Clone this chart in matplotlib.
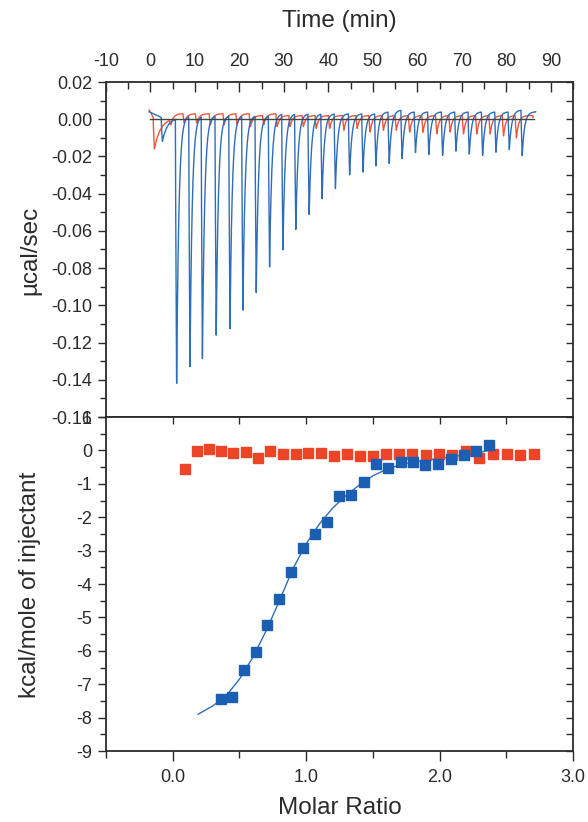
import numpy as np
import matplotlib
matplotlib.use("Agg")
import matplotlib.pyplot as plt
from matplotlib.ticker import MultipleLocator, FixedLocator

plt.rcParams['font.family'] = ['Liberation Sans', 'DejaVu Sans']
plt.rcParams['axes.unicode_minus'] = False

# ---------------- data: raw thermogram (top) ----------------
blue_inj_times = [2.4, 5.6, 8.6, 11.4, 14.5, 17.6, 20.5, 23.5, 26.5, 29.5,
                  32.4, 35.4, 38.3, 41.3, 44.5, 47.5, 50.4, 53.4, 56.3, 59.3,
                  62.3, 65.4, 68.4, 71.4, 74.4, 77.4, 80.4, 83.3]
blue_peak_min = [-0.012, -0.1437, -0.1333, -0.1287, -0.1161, -0.1136, -0.1039,
                 -0.0944, -0.0804, -0.0708, -0.0600, -0.0516, -0.0433, -0.0380,
                 -0.0303, -0.0287, -0.0254, -0.0240, -0.0215, -0.0182, -0.0190,
                 -0.0197, -0.0174, -0.0190, -0.0197, -0.0180, -0.0165, -0.0197]
blue_hump = [0.001, 0.002, 0.002, 0.002, 0.002, 0.002, 0.002, 0.002, 0.003,
             0.003, 0.003, 0.003, 0.003, 0.003, 0.003, 0.003, 0.004, 0.005,
             0.004, 0.004, 0.004, 0.004, 0.004, 0.004, 0.004, 0.004, 0.005, 0.004]
blue_start, blue_end = (-0.3, 0.004), (86.6, 0.004)

red_inj_times = [0.6, 4.3, 7.3, 10.1, 13.2, 16.3, 19.2, 22.2, 25.2, 28.2,
                 31.1, 34.1, 37.0, 40.0, 43.2, 46.2, 49.1, 52.1, 55.0, 58.0,
                 61.0, 64.1, 67.1, 70.1, 73.1, 76.1, 79.1, 82.0]
red_spike_min = [-0.016, -0.003, -0.002, -0.002, -0.003, -0.003, -0.003, -0.004,
                 -0.003, -0.004, -0.004, -0.004, -0.005, -0.005, -0.006, -0.005,
                 -0.007, -0.006, -0.006, -0.007, -0.007, -0.008, -0.007, -0.008,
                 -0.008, -0.008, -0.009, -0.010]
red_hump = [0.001, 0.003, 0.003, 0.003, 0.003, 0.003, 0.003, 0.002, 0.003, 0.002,
            0.002, 0.002, 0.002, 0.002, 0.002, 0.002, 0.002, 0.002, 0.002, 0.002,
            0.002, 0.002, 0.002, 0.002, 0.002, 0.002, 0.002, 0.002]
red_start, red_end = (-0.3, 0.005), (86.0, 0.001)
baseline_span = [0.0, 86.3]

# ---------------- data: integrated heats (bottom) ----------------
blue_ratio = [0.3625, 0.4475, 0.535, 0.6225, 0.71, 0.7975, 0.885, 0.975, 1.065,
              1.155, 1.2475, 1.3375, 1.43, 1.52, 1.6125, 1.7075, 1.7975, 1.8925,
              1.9875, 2.085, 2.18, 2.275, 2.37]
blue_heat = [-7.45, -7.38, -6.58, -6.03, -5.23, -4.45, -3.63, -2.92, -2.51,
             -2.15, -1.38, -1.34, -0.94, -0.41, -0.54, -0.36, -0.36, -0.44,
             -0.40, -0.25, -0.14, -0.03, 0.16]
red_ratio = [0.09, 0.18, 0.2725, 0.3625, 0.455, 0.5475, 0.64, 0.7325, 0.8275,
             0.9225, 1.015, 1.11, 1.2075, 1.3025, 1.40, 1.50, 1.5975, 1.6975,
             1.795, 1.895, 1.995, 2.09, 2.1975, 2.2975, 2.4025, 2.5025, 2.605,
             2.7075]
red_heat = [-0.55, -0.02, 0.03, -0.01, -0.08, -0.05, -0.22, -0.02, -0.12, -0.12,
            -0.07, -0.07, -0.18, -0.11, -0.18, -0.18, -0.11, -0.10, -0.10, -0.14,
            -0.12, -0.15, -0.02, -0.22, -0.11, -0.11, -0.13, -0.10]
fit_ratio = [0.19, 0.30, 0.40, 0.50, 0.60, 0.70, 0.80, 0.90, 1.00, 1.10, 1.20,
             1.30, 1.40, 1.50, 1.60, 1.70, 1.80, 1.90, 2.00, 2.10, 2.20, 2.30, 2.37]
fit_heat = [-7.90, -7.65, -7.35, -6.85, -6.20, -5.40, -4.50, -3.55, -2.80, -2.20,
            -1.72, -1.35, -1.03, -0.76, -0.57, -0.44, -0.35, -0.29, -0.24, -0.19,
            -0.13, -0.06, 0.00]

time_ticks = list(range(-10, 91, 10))
ratio_ticks = [0.0, 1.0, 2.0, 3.0]
ratio_labels = ["0.0", "1.0", "2.0", "3.0"]
power_ticks = [0.02, 0.00, -0.02, -0.04, -0.06, -0.08, -0.10, -0.12, -0.14, -0.16]
heat_ticks = list(range(-9, 2))

BLUE_LINE = "#2f6db8"
BLUE_MARK = "#1a5fb2"
RED = "#ec4426"
TXT = "#2b2b2b"


def trace(times, mins, humps, start, end, tau_first):
    """Build the thermogram trace piece by piece from the injection list."""
    ts, ys = [start[0]], [start[1]]
    t_edges = list(times) + [end[0]]
    seg = np.linspace(start[0], times[0], 20)
    ts += list(seg)
    ys += list(start[1] + (0.001 - start[1]) * (seg - start[0]) / (times[0] - start[0]))
    prev = 0.001
    for i, (t0, d, h) in enumerate(zip(times, mins, humps)):
        t1 = t_edges[i + 1]
        tf = 0.28
        tau = tau_first if i == 0 else 0.5
        s = np.linspace(0, t1 - t0, 200)
        y = np.empty_like(s)
        fall = s < tf
        y[fall] = prev + (d - prev) * (s[fall] / tf) ** 0.8
        r = s[~fall] - tf
        y[~fall] = d * np.exp(-r / tau) + h * (1 - np.exp(-r / 0.7))
        ts += list(t0 + s)
        ys += list(y)
        prev = y[-1]
    ts.append(end[0])
    ys.append(end[1])
    return np.array(ts), np.array(ys)


fig = plt.figure(figsize=(5.88, 8.22), dpi=100)
ax1 = fig.add_axes([106 / 588, 1 - 417 / 822, 467 / 588, 335 / 822])
ax2 = fig.add_axes([106 / 588, 1 - 751 / 822, 467 / 588, 334 / 822])

# ---- top panel ----
tr, yr = trace(red_inj_times, red_spike_min, red_hump, red_start, red_end, 1.5)
tb, yb = trace(blue_inj_times, blue_peak_min, blue_hump, blue_start, blue_end, 1.2)
ax1.plot(tb, yb, color=BLUE_LINE, lw=1.0, zorder=3)
ax1.plot(tr, yr, color=RED, lw=1.0, zorder=2, alpha=0.9)
ax1.plot(baseline_span, [0, 0], color="#444444", lw=1.0, zorder=4)
ax1.set_xlim(-10, 95)
ax1.set_ylim(-0.16, 0.02)

ax1.xaxis.set_ticks_position('top')
ax1.xaxis.set_label_position('top')
ax1.set_xticks(time_ticks)
ax1.set_xticklabels([str(t) for t in time_ticks])
ax1.xaxis.set_minor_locator(MultipleLocator(5))
ax1.tick_params(axis='x', which='both', top=True, bottom=False, direction='in',
                labelsize=13, pad=9, colors=TXT, width=1.0)
ax1.tick_params(axis='x', which='major', length=7)
ax1.tick_params(axis='x', which='minor', length=5)
ax1.set_yticks(power_ticks)
ax1.set_yticklabels(["%.2f" % v if abs(v) > 1e-9 else "0.00" for v in power_ticks])
ax1.yaxis.set_minor_locator(MultipleLocator(0.01))
ax1.tick_params(axis='y', which='both', left=True, right=False, direction='out',
                labelsize=13, pad=4, colors=TXT, width=1.0)
ax1.tick_params(axis='y', which='major', length=6)
ax1.tick_params(axis='y', which='minor', length=4)
for v in np.arange(-0.16, 0.0201, 0.01):
    ax1.plot([1, 0.985], [v, v], transform=ax1.get_yaxis_transform(),
             color=TXT, lw=1.0, clip_on=False, solid_capstyle='butt')
ax1.set_xlabel("Time (min)", fontsize=17.5, color=TXT, labelpad=18)

# ---- bottom panel ----
ax2.plot(fit_ratio, fit_heat, color=BLUE_LINE, lw=1.0, zorder=2)
ax2.plot(red_ratio, red_heat, 's', color=RED, ms=7.2, mec=RED, zorder=3)
ax2.plot(blue_ratio, blue_heat, 's', color=BLUE_MARK, ms=7.2, mec=BLUE_MARK, zorder=4)
ax2.set_xlim(-0.5, 3.0)
ax2.set_ylim(-9, 1)
ax2.set_xticks(ratio_ticks)
ax2.set_xticklabels(ratio_labels)
ax2.xaxis.set_minor_locator(FixedLocator([-0.5, 0.5, 1.5, 2.5]))
ax2.tick_params(axis='x', which='both', bottom=True, top=False, direction='out',
                labelsize=13, pad=6, colors=TXT, width=1.0)
ax2.tick_params(axis='x', which='major', length=7)
ax2.tick_params(axis='x', which='minor', length=5)
ax2.set_yticks(heat_ticks)
ax2.set_yticklabels([str(v) for v in heat_ticks])
ax2.yaxis.set_minor_locator(MultipleLocator(0.5))
ax2.tick_params(axis='y', which='both', left=True, right=False, direction='out',
                labelsize=13, pad=4, colors=TXT, width=1.0)
ax2.tick_params(axis='y', which='major', length=6)
ax2.tick_params(axis='y', which='minor', length=4)
for v in np.arange(-9, 1.01, 0.5):
    ax2.plot([1, 0.985], [v, v], transform=ax2.get_yaxis_transform(),
             color=TXT, lw=1.0, clip_on=False, solid_capstyle='butt')
for v in np.arange(0.0, 3.0, 0.5):
    ax2.plot([v, v], [1, 0.978], transform=ax2.get_xaxis_transform(),
             color=TXT, lw=1.0, clip_on=False, solid_capstyle='butt')
ax2.set_xlabel("Molar Ratio", fontsize=17.5, color=TXT, labelpad=8)

for ax in (ax1, ax2):
    for sp in ax.spines.values():
        sp.set_linewidth(1.3)
        sp.set_color(TXT)

fig.text(30 / 588, 1 - 250 / 822, "µcal/sec", rotation=90, ha='center',
         va='center', fontsize=17.5, color=TXT)
fig.text(30 / 588, 1 - 585 / 822, "kcal/mole of injectant", rotation=90,
         ha='center', va='center', fontsize=17.5, color=TXT)

fig.savefig("out.png", dpi=100)
